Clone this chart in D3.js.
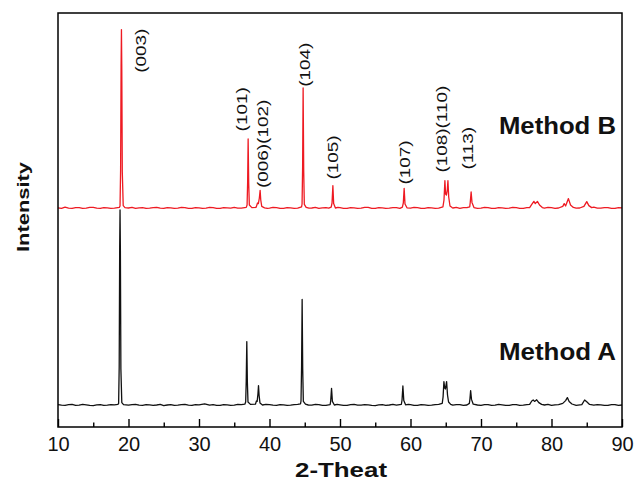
<!DOCTYPE html>
<html lang="en">
  <head>
    <meta charset="UTF-8" />
    <script src="https://d3js.org/d3.v7.min.js"></script>
    <title>XRD patterns</title>
    <style type="text/css">
      body {
        margin: 0;
        background: #fff;
      }
      .tick line {
        stroke: #000;
        stroke-width: 1.4px;
      }
      .tick text {
        fill: #111;
        font-size: 20px;
        font-family: 'Liberation Sans', Arial, sans-serif;
      }
      .axis-label,
      .method-label {
        fill: #111;
        font-weight: bold;
        font-family: 'Liberation Sans', Arial, sans-serif;
      }
      .peak-label {
        fill: #111;
        font-size: 14px;
        font-family: 'Liberation Sans', Arial, sans-serif;
      }
    </style>
  </head>
  <body>
    <svg width="637" height="481"></svg>
  </body>
  <script type="text/javascript">
    // [2-theta, intensity], Method A (black)
    const methodA = [
      [10, 112], [10.5, 109], [11, 108], [11.5, 112], [12, 113], [12.5, 108], [13, 109], [13.5, 113], [14, 111], [14.5, 108],
      [15, 107], [15.5, 111], [16, 112], [16.5, 108], [17, 109], [17.5, 112], [18, 111], [18.5, 113],
      [18.6, 118], [18.68, 300], [18.75, 900], [18.8, 1085], [18.85, 880], [18.92, 290], [19.05, 122], [19.3, 112],
      [20, 109], [20.5, 112], [21, 113], [21.5, 109], [22, 108], [22.5, 112], [23, 111], [23.5, 108], [24, 110], [24.5, 113],
      [25, 107], [25.5, 110], [26, 112], [26.5, 108], [27, 109], [27.5, 112], [28, 113], [28.5, 109], [29, 108], [29.5, 112],
      [30, 111], [30.8, 116], [31.5, 109], [32, 112], [32.5, 108], [33, 108], [33.5, 112], [34, 111], [34.5, 108],
      [35, 109], [35.5, 113], [36, 112], [36.5, 114],
      [36.62, 125], [36.7, 230], [36.78, 427], [36.86, 225], [36.95, 125], [37.3, 113],
      [38.0, 114], [38.15, 130], [38.25, 128], [38.36, 165], [38.44, 207], [38.52, 160], [38.65, 120], [39, 110],
      [39.5, 113], [40, 112], [40.5, 109], [41, 108], [41.5, 112], [42, 111], [42.5, 108], [43, 109], [43.5, 112],
      [44, 113], [44.4, 116],
      [44.47, 130], [44.55, 300], [44.63, 638], [44.71, 290], [44.8, 128], [45.1, 114],
      [45.5, 110], [46, 109], [46.5, 113], [47, 112], [47.5, 108], [48, 108], [48.6, 112],
      [48.68, 130], [48.8, 193], [48.92, 128], [49.2, 110],
      [49.6, 113], [50, 111], [50.5, 108], [51, 108], [51.5, 112], [52, 113], [52.5, 109], [53, 109], [53.5, 112],
      [54, 111], [54.5, 108], [55, 107], [55.5, 111], [56, 112], [56.5, 108], [57, 110], [57.5, 113], [58, 109], [58.7, 113],
      [58.8, 135], [58.92, 205], [59.05, 132], [59.3, 111],
      [59.7, 113], [60, 112], [60.5, 108], [61, 108], [61.5, 112], [62, 111], [62.5, 108], [63, 109], [63.5, 112],
      [64, 113], [64.5, 118],
      [64.62, 150], [64.74, 227], [64.85, 195], [64.95, 190], [65.12, 227], [65.25, 160], [65.4, 125], [65.7, 113],
      [66, 109], [66.5, 112], [67, 112], [67.5, 108], [68, 110], [68.35, 118],
      [68.43, 140], [68.53, 182], [68.65, 138], [68.9, 114],
      [69.5, 110], [70, 108], [70.5, 112], [71, 112], [71.5, 108], [72, 109], [72.5, 113], [73, 111], [73.5, 108],
      [74, 108], [74.5, 112], [75, 112], [75.5, 108], [76, 109], [76.5, 112], [76.9, 113],
      [77.2, 130], [77.4, 135], [77.6, 128], [77.9, 136], [78.2, 122], [78.6, 113],
      [79, 110], [79.5, 113], [80, 108], [80.5, 111], [81, 112], [81.6, 118], [82.0, 132], [82.25, 147], [82.5, 128], [82.9, 115],
      [83.5, 108], [84.3, 112], [84.7, 135], [85.0, 126], [85.4, 113], [86, 109], [86.5, 112], [87, 111], [87.5, 108],
      [88, 108], [88.5, 112], [89, 112], [89.5, 108], [90, 110],
    ];

    // Method B (red), drawn shifted up by offsetB
    const methodB = [
      [10, 111], [10.5, 108], [11, 114], [11.5, 109], [12, 108], [12.5, 112], [13, 112], [13.5, 108], [14, 109], [14.5, 113],
      [15, 113], [15.5, 109], [16, 108], [16.5, 112], [17, 111], [17.5, 108], [18, 109], [18.7, 113],
      [18.8, 120], [18.88, 300], [18.95, 820], [19.0, 1002], [19.05, 800], [19.12, 290], [19.25, 122], [19.5, 112],
      [20, 110], [20.5, 113], [21, 108], [21.5, 111], [22, 112], [22.5, 108], [23, 109], [23.5, 112], [24, 113], [24.5, 109],
      [25, 108], [25.5, 112], [26, 111], [26.5, 108], [27, 109], [27.5, 113], [28, 112], [28.5, 108], [29, 108], [29.5, 112],
      [30, 111], [30.5, 108], [31, 109], [31.5, 113], [32, 112], [32.5, 108], [33, 108], [33.5, 112], [34, 111], [34.5, 109],
      [35, 113], [35.5, 109], [36, 109], [36.7, 113],
      [36.82, 125], [36.9, 240], [36.97, 455], [37.05, 235], [37.14, 125], [37.5, 112],
      [38.1, 113], [38.3, 135], [38.42, 132], [38.56, 160], [38.67, 198], [38.76, 150], [38.9, 118], [39.3, 111],
      [39.7, 108], [40, 109], [40.5, 113], [41, 112], [41.5, 108], [42, 108], [42.5, 112], [43, 111], [43.5, 108],
      [44, 109], [44.55, 116],
      [44.62, 130], [44.7, 320], [44.77, 710], [44.85, 300], [44.94, 128], [45.2, 113],
      [45.6, 109], [46, 110], [46.5, 113], [47, 108], [47.5, 111], [48, 112], [48.4, 109], [48.75, 114],
      [48.87, 135], [48.99, 222], [49.1, 132], [49.35, 110],
      [49.7, 113], [50, 112], [50.5, 108], [51, 108], [51.5, 112], [52, 111], [52.5, 108], [53, 109], [53.5, 113],
      [54, 113], [54.5, 108], [55, 108], [55.5, 112], [56, 111], [56.5, 108], [57, 109], [57.5, 112], [58, 112], [58.5, 108], [58.85, 114],
      [58.98, 135], [59.1, 208], [59.22, 130], [59.5, 111],
      [60, 109], [60.5, 113], [61, 112], [61.5, 108], [62, 108], [62.5, 112], [63, 111], [63.5, 108], [64, 109], [64.6, 116],
      [64.75, 150], [64.88, 247], [64.98, 180], [65.1, 175], [65.22, 200], [65.31, 247], [65.42, 165], [65.6, 120], [65.9, 112],
      [66, 110], [66.5, 113], [67, 108], [67.5, 112], [68, 112], [68.4, 116],
      [68.48, 140], [68.6, 190], [68.72, 138], [69, 112],
      [69.5, 108], [70, 109], [70.5, 113], [71, 112], [71.5, 108], [72, 108], [72.5, 112], [73, 111], [73.5, 108],
      [74, 109], [74.5, 113], [75, 112], [75.5, 108], [76, 108], [76.5, 112], [76.9, 112],
      [77.2, 128], [77.5, 143], [77.7, 132], [78.0, 143], [78.3, 125], [78.7, 112],
      [79, 109], [79.5, 113], [80, 112], [80.5, 108], [81, 110], [81.6, 118], [81.8, 132], [82.0, 120], [82.4, 157], [82.7, 125], [83.1, 113],
      [83.5, 109], [84, 110], [84.6, 118], [85.0, 142], [85.3, 122], [85.7, 112], [86, 114], [86.5, 109], [87, 109], [87.5, 112],
      [88, 112], [88.5, 108], [89, 108], [89.5, 112], [90, 111],
    ];
    const offsetB = 985;

    // peak labels: text, 2-theta and intensity where the label starts
    const peakLabels = ['(003)', '(101)', '(006)(102)', '(104)', '(105)', '(107)', '(108)(110)', '(113)'];
    const labelTheta = [22.55, 36.74, 39.8, 45.7, 49.7, 59.92, 65.17, 68.86];
    const labelIntensity = [1771, 1478, 1195, 1701, 1237, 1212, 1272, 1287];

    const majorTicks = [10, 20, 30, 40, 50, 60, 70, 80, 90];
    const minorTicks = [15, 25, 35, 45, 55, 65, 75, 85];

    const margin = { top: 13, right: 15, bottom: 54, left: 58 };
    const width = 637 - margin.left - margin.right;
    const height = 481 - margin.top - margin.bottom;

    const svg = d3.select('svg');
    const g = svg.append('g').attr('transform', `translate(${margin.left}, ${margin.top})`);

    const xScale = d3.scaleLinear().domain([10, 90]).range([0, width]);
    const yScale = d3.scaleLinear().domain([0, 2070]).range([height, 0]);

    // minor ticks
    g.append('g')
      .attr('transform', `translate(0, ${height})`)
      .call(d3.axisBottom(xScale).tickValues(minorTicks).tickSize(-4.5).tickFormat(''))
      .call((a) => a.select('.domain').remove());

    // major ticks + labels
    g.append('g')
      .attr('transform', `translate(0, ${height})`)
      .call(d3.axisBottom(xScale).tickValues(majorTicks).tickSize(-8).tickPadding(10).tickFormat(d3.format('d')))
      .call((a) => a.select('.domain').remove());

    const lineA = d3
      .line()
      .x((d) => xScale(d[0]))
      .y((d) => yScale(d[1]));
    const lineB = d3
      .line()
      .x((d) => xScale(d[0]))
      .y((d) => yScale(d[1] + offsetB));

    g.append('path')
      .datum(methodA)
      .attr('d', lineA)
      .attr('fill', 'none')
      .attr('stroke', '#111')
      .attr('stroke-width', 1.3)
      .attr('stroke-linejoin', 'round');

    g.append('path')
      .datum(methodB)
      .attr('d', lineB)
      .attr('fill', 'none')
      .attr('stroke', '#ee1a22')
      .attr('stroke-width', 1.3)
      .attr('stroke-linejoin', 'round');

    // frame
    g.append('rect')
      .attr('width', width)
      .attr('height', height)
      .attr('fill', 'none')
      .attr('stroke', '#000')
      .attr('stroke-width', 1.5);

    // peak labels (rotated)
    g.selectAll('.peak-label')
      .data(peakLabels)
      .enter()
      .append('text')
      .attr('class', 'peak-label')
      .attr('transform', (d, i) => `translate(${xScale(labelTheta[i])}, ${yScale(labelIntensity[i])}) rotate(-90) scale(1.35, 1)`)
      .text((d) => d);

    // method labels
    g.append('text')
      .attr('class', 'method-label')
      .attr('x', xScale(72.55))
      .attr('y', yScale(1465))
      .attr('font-size', 23)
      .attr('textLength', 117)
      .attr('lengthAdjust', 'spacingAndGlyphs')
      .text('Method B');

    g.append('text')
      .attr('class', 'method-label')
      .attr('x', xScale(72.55))
      .attr('y', yScale(335))
      .attr('font-size', 23)
      .attr('textLength', 117)
      .attr('lengthAdjust', 'spacingAndGlyphs')
      .text('Method A');

    // axis labels
    svg.append('text')
      .attr('class', 'axis-label')
      .attr('x', 341)
      .attr('y', 477)
      .attr('font-size', 20)
      .attr('text-anchor', 'middle')
      .attr('textLength', 92)
      .attr('lengthAdjust', 'spacingAndGlyphs')
      .text('2-Theat');

    svg.append('text')
      .attr('class', 'axis-label')
      .attr('transform', 'translate(28.5, 207) rotate(-90)')
      .attr('font-size', 17)
      .attr('text-anchor', 'middle')
      .attr('textLength', 90)
      .attr('lengthAdjust', 'spacingAndGlyphs')
      .text('Intensity');
  </script>
</html>
